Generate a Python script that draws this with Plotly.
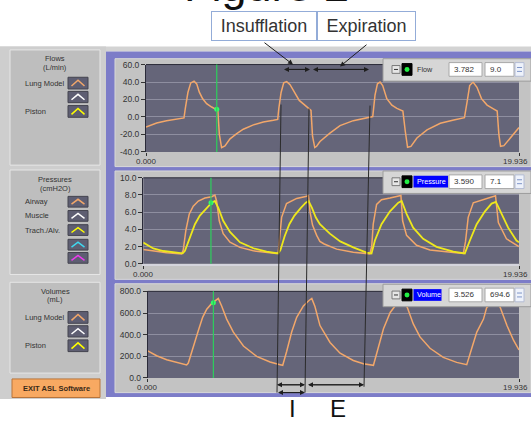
import plotly.graph_objects as go

W, H = 531, 423

# ---------------- data ----------------
x_end = 19.936
x_tick_labels = ["0.000", "19.936"]

flow_time = [0.00, 0.57, 1.10, 1.64, 2.03,
             2.10, 2.24, 2.39, 2.57, 2.71, 2.85, 3.03, 3.24, 3.51, 3.74, 3.84, 3.92, 4.04, 4.22, 4.49, 4.85,
             5.20, 5.74, 6.27, 6.81, 7.04,
             7.10, 7.22, 7.36, 7.52, 7.70, 7.96, 8.19, 8.41, 8.73, 8.82, 8.90, 9.02, 9.12, 9.30, 9.83,
             10.37, 11.08, 11.98,
             12.12, 12.24, 12.37, 12.51, 12.65, 12.87, 13.14, 13.41, 13.73, 13.86, 13.98, 14.16, 14.48,
             15.02, 15.73, 16.45, 17.02,
             17.16, 17.30, 17.48, 17.69, 17.93, 18.23, 18.59, 18.77, 18.86, 18.95, 19.13, 19.57, 19.936]
flow_lung_model = [-11.4, -6.8, -4.2, -2.3, -1.1,
                   9.5, 28.0, 39.0, 40.9, 37.9, 28.4, 20.8, 15.2, 11.4, 8.7, 7.5, -20.0, -35.0, -33.0, -25.0, -19.0,
                   -14.0, -9.0, -5.7, -3.8, -2.8,
                   10.0, 28.0, 39.0, 40.5, 37.0, 28.0, 19.0, 15.0, 9.5, 7.5, -22.0, -35.0, -33.5, -28.0, -18.5,
                   -9.8, -4.2, -0.8,
                   0.5, 25.0, 38.0, 40.0, 36.0, 21.0, 13.6, 9.8, 6.8, -16.6, -34.7, -33.6, -24.0,
                   -14.7, -7.2, -3.4, -0.8,
                   17.0, 36.0, 40.0, 34.0, 21.0, 13.6, 9.0, 6.8, -20.0, -33.6, -32.8, -22.0, -12.0]

pressure_time_airway = [0.00, 0.53, 1.24, 2.03, 2.12, 2.26, 2.44, 2.65, 2.92, 3.27, 3.63, 3.80, 3.89, 4.03,
                        4.24, 4.60, 5.13, 5.84, 6.54, 7.05,
                        7.16, 7.24, 7.34, 7.60, 8.14, 8.67, 8.76, 8.85, 8.98, 9.20, 9.37, 9.60, 10.26, 11.14,
                        11.85, 12.02,
                        12.12, 12.20, 12.38, 12.64, 13.09, 13.44, 13.67, 13.76, 13.97, 14.50, 15.21, 16.45, 16.98,
                        17.10, 17.24, 17.51, 18.04, 18.57, 18.69, 18.84, 19.27, 19.936]
pressure_airway = [1.67, 1.48, 1.29, 1.14, 1.6, 3.9, 5.8, 6.7, 7.3, 7.65, 7.8, 8.0, 7.3, 5.0,
                   3.5, 2.5, 1.9, 1.5, 1.3, 1.2,
                   1.3, 3.5, 5.4, 7.0, 7.6, 7.85, 8.0, 6.0, 4.5, 3.3, 2.6, 2.3, 1.7, 1.35,
                   1.2, 1.15,
                   2.0, 4.6, 6.9, 7.45, 7.65, 7.85, 7.95, 5.0, 3.3, 2.15, 1.6, 1.3, 1.2,
                   2.6, 5.4, 7.1, 7.45, 7.75, 7.9, 4.8, 2.9, 2.0]

pressure_time_trach = [0.00, 0.53, 1.06, 1.77, 2.09, 2.21, 2.48, 2.74, 3.00, 3.36, 3.63, 3.80, 3.98, 4.24,
                       4.60, 5.13, 5.84, 6.54, 7.16,
                       7.28, 7.50, 7.75, 8.02, 8.36, 8.62, 8.77, 8.95, 9.15, 9.37, 9.90, 10.45, 11.14, 11.85, 12.11,
                       12.29, 12.64, 13.09, 13.53, 13.71, 13.97, 14.32, 14.85, 15.56, 16.45, 17.06,
                       17.33, 17.69, 18.13, 18.48, 18.71, 19.01, 19.36, 19.80, 19.936]
pressure_trach_alv = [2.46, 1.78, 1.48, 1.29, 1.21, 1.5, 3.2, 4.6, 5.6, 6.5, 7.1, 7.3, 6.5, 5.0,
                      3.7, 2.5, 1.8, 1.4, 1.2,
                      1.6, 3.2, 4.6, 5.6, 6.5, 7.1, 7.3, 6.5, 5.4, 4.6, 3.5, 2.6, 1.9, 1.3, 1.2,
                      2.7, 4.6, 6.1, 7.1, 7.3, 5.8, 4.2, 2.9, 1.97, 1.4, 1.2,
                      2.7, 4.6, 6.1, 7.0, 7.2, 5.8, 4.2, 2.7, 2.5]

volume_time = [0.00, 0.48, 1.02, 1.56, 2.09, 2.18, 2.36, 2.54, 2.72, 2.95, 3.17, 3.44, 3.62, 3.79, 3.97,
               4.24, 4.60, 5.14, 5.85, 6.57, 7.11, 7.25,
               7.46, 7.73, 8.00, 8.36, 8.66, 8.81, 8.98, 9.25, 9.79, 10.33, 11.04, 11.58, 12.12,
               12.39, 12.66, 13.02, 13.28, 13.70, 13.94, 14.26, 14.62, 15.16, 15.87, 16.59, 17.13,
               17.40, 17.67, 18.03, 18.20, 18.68, 18.93, 19.29, 19.64, 19.936]
volume_lung_model = [250, 205, 168, 144, 120, 138, 244, 334, 439, 560, 635, 689, 716, 734, 665,
                     544, 424, 295, 199, 147, 123, 117,
                     244, 424, 560, 665, 716, 734, 660, 484, 328, 229, 162, 132, 117,
                     274, 454, 605, 665, 734, 650, 499, 379, 274, 190, 144, 123,
                     274, 424, 544, 650, 734, 650, 484, 349, 259]

flow_ticks = [-40, -20, 0, 20, 40, 60]
pressure_ticks = [0, 2, 4, 6, 8, 10]
volume_ticks = [0, 200, 400, 600, 800]

flow_cursor = [3.782, 9.0]
pressure_cursor = [3.590, 7.1]
volume_cursor = [3.526, 694.6]

panel_names = ["Flow", "Pressure", "Volume"]
cursor_readouts = [["3.782", "9.0"], ["3.590", "7.1"], ["3.526", "694.6"]]

# ---------------- styling ----------------
ORANGE = "#f2a76a"
YELLOW = "#eee81c"
GREEN = "#2dcf5c"
PLOT_BG = "#656579"
GRID = "#8e8ea0"
FRAME = "#c3c3c3"
PURPLE = "#7c7cc8"
SIDEBAR = "#cecece"
BOX = "#bebebe"
TXT = "#333333"
FONT = "Liberation Sans, Arial, sans-serif"


def X(px):
    return px / W


def Y(py):
    return 1 - py / H


shapes = []
annotations = []


def rect(x0, y0, x1, y1, fill, line=None, lw=1, layer="below"):
    shapes.append(dict(type="rect", xref="paper", yref="paper",
                       x0=X(x0), x1=X(x1), y0=Y(y1), y1=Y(y0), fillcolor=fill,
                       line=dict(color=line if line else fill, width=lw if line else 0),
                       layer=layer))


def seg(x0, y0, x1, y1, color, width=1, layer="above"):
    shapes.append(dict(type="line", xref="paper", yref="paper",
                       x0=X(x0), y0=Y(y0), x1=X(x1), y1=Y(y1),
                       line=dict(color=color, width=width), layer=layer))


def text(x, y, s, size, color=TXT, xanchor="center"):
    annotations.append(dict(xref="paper", yref="paper", x=X(x), y=Y(y), text=s,
                            showarrow=False, xanchor=xanchor, yanchor="middle",
                            font=dict(family=FONT, size=size, color=color)))


def arrow(hx, hy, tx, ty):
    annotations.append(dict(xref="paper", yref="paper", x=X(hx), y=Y(hy),
                            ax=tx - hx, ay=ty - hy, text="", showarrow=True,
                            arrowhead=2, arrowsize=1, arrowwidth=1, arrowcolor="#1e1e1e",
                            standoff=0, startstandoff=0))


def darrow(x1, x2, y):
    arrow(x2, y, x1, y)
    arrow(x1, y, x2, y)


# ---------------- window background ----------------
rect(0, 42.5, 531, 47.5, "#d3d3d3")
rect(106, 47.5, 531, 401.5, PURPLE)
rect(0, 42.5, 106, 403.5, SIDEBAR)

frames = [(115, 55, 531, 165.5), (115, 170, 531, 281), (115, 285.5, 531, 397)]
for f in frames:
    rect(*f, FRAME, "#d8d8d8", 1)

panels = [(146, 519, 61, 150.5), (143.3, 519, 177, 265), (147.7, 519, 293.3, 382)]
for (l, r, t, b) in panels:
    rect(l, t, r, b, PLOT_BG)
    seg(l, t, r, t, "#2a2a38", 1)

# ---------------- sidebar ----------------
def swatch(y0, y1, color):
    rect(68, y0, 88, y1, "#5e5e72", "#44444f", 1)
    path = "M {},{} L {},{} L {},{}".format(X(71.5), Y(y1 - 3), X(78), Y(y0 + 3), X(84.5), Y(y1 - 3))
    shapes.append(dict(type="path", xref="paper", yref="paper", path=path,
                       line=dict(color=color, width=1.5), layer="below"))


rect(10, 46, 100, 164, BOX, "#e6e6e6", 1)
text(55, 55, "Flows", 7.5)
text(55, 64, "(L/min)", 7.5)
text(23, 80, "Lung Model", 7.5, xanchor="left")
text(23, 109, "Piston", 7.5, xanchor="left")
swatch(74, 86, ORANGE)
swatch(88.5, 100, "#ffffff")
swatch(103, 115, "#ffff00")

rect(10, 169, 100, 276, BOX, "#e6e6e6", 1)
text(55, 179, "Pressures", 7.5)
text(55, 188, "(cmH2O)", 7.5)
text(23, 201, "Airway", 7.5, xanchor="left")
text(23, 216, "Muscle", 7.5, xanchor="left")
text(23, 230.5, "Trach./Alv.", 7.5, xanchor="left")
swatch(196, 207, ORANGE)
swatch(210.5, 221.5, "#ffffff")
swatch(225, 236, "#ffff00")
swatch(240, 251, "#3fd8f0")
swatch(253.5, 264.5, "#ee3cf0")

rect(10, 284, 100, 377, BOX, "#e6e6e6", 1)
text(55, 293, "Volumes", 7.5)
text(55, 302, "(mL)", 7.5)
text(23, 320, "Lung Model", 7.5, xanchor="left")
text(23, 349, "Piston", 7.5, xanchor="left")
swatch(314, 326, ORANGE)
swatch(328.5, 340, "#ffffff")
swatch(343, 355, "#ffff00")

rect(12, 383, 100, 402, "#f8a962", "#b8743a", 1)
text(56, 393, "<b>EXIT ASL Software</b>", 7.5, color="#3a2a18")

# ---------------- readout boxes on each panel ----------------
def readout(top, label, v1, v2, highlight_w):
    rect(383, top, 531, top + 23, "#d6d6d6", "#9c9c9c", 1, "above")
    rect(392, top + 7, 400, top + 15, "#e6e6e6", "#7a7a7a", 1, "above")
    seg(394, top + 11, 398, top + 11, "#333333", 1)
    rect(402, top + 5, 412, top + 17, "#000000", "#000000", 1, "above")
    shapes.append(dict(type="circle", xref="paper", yref="paper",
                       x0=X(404.5), x1=X(409.5), y0=Y(top + 13.5), y1=Y(top + 8.5),
                       fillcolor="#22ee44", line=dict(width=0), layer="above"))
    color = TXT
    if highlight_w:
        rect(413.5, top + 5, 413.5 + highlight_w, top + 17, "#0000ff", None, 1, "above")
        color = "#ffffff"
    text(414.5, top + 11, label, 7.2, color=color, xanchor="left")
    rect(449, top + 4, 482, top + 18, "#ffffff", "#a8a8a8", 1, "above")
    text(451.5, top + 11, v1, 8, xanchor="left")
    rect(485, top + 4, 514, top + 18, "#ffffff", "#a8a8a8", 1, "above")
    text(487.5, top + 11, v2, 8, xanchor="left")
    rect(515, top + 4, 524, top + 18, "#eef2fb", "#b4bcd4", 1, "above")
    seg(517, top + 9, 522, top + 9, "#7f95c8", 1)
    seg(517, top + 13, 522, top + 13, "#7f95c8", 1)


readout(55, panel_names[0], cursor_readouts[0][0], cursor_readouts[0][1], 0)
readout(170, panel_names[1], cursor_readouts[1][0], cursor_readouts[1][1], 34.5)
readout(286, panel_names[2], cursor_readouts[2][0], cursor_readouts[2][1], 28)

# x tick labels
for (l, r, t, b), ly in zip(panels, [160, 276, 392]):
    text(l, ly, x_tick_labels[0], 8)
    text(530, ly, x_tick_labels[1], 8, xanchor="right")

# ---------------- figure annotations (title, phases, arrows) ----------------
annotations.append(dict(xref="paper", yref="paper", x=X(266), y=Y(8.5), text="Figure 2",
                        showarrow=False, xanchor="center", yanchor="bottom",
                        font=dict(family=FONT, size=45, color="#111111")))
annotations.append(dict(xref="paper", yref="paper", x=X(264), y=Y(21.5), text="Insufflation",
                        showarrow=False, xanchor="center", yanchor="middle", width=104, height=28,
                        bgcolor="#ffffff", bordercolor="#93acd8", borderwidth=1, borderpad=0,
                        font=dict(family=FONT, size=18, color="#333333")))
annotations.append(dict(xref="paper", yref="paper", x=X(366.5), y=Y(21.5), text="Expiration",
                        showarrow=False, xanchor="center", yanchor="middle", width=97, height=28,
                        bgcolor="#ffffff", bordercolor="#93acd8", borderwidth=1, borderpad=0,
                        font=dict(family=FONT, size=18, color="#333333")))

arrow(293, 61, 263, 38)
arrow(340, 63, 368, 40)
darrow(284, 310, 66)
darrow(313, 369, 66)

seg(281, 102, 277, 397, "#2b2b2b", 1)
seg(309, 106, 305, 397, "#2b2b2b", 1)
seg(370, 103, 364, 391, "#2b2b2b", 1)

darrow(277, 305, 389)
darrow(308, 364, 389)
darrow(278, 305, 397)

text(292, 413, "I", 24, color="#111111")
text(338, 413, "E", 24, color="#111111")

# ---------------- traces ----------------
fig = go.Figure()
fig.add_trace(go.Scatter(x=flow_time, y=flow_lung_model, mode="lines",
                         line=dict(color=ORANGE, width=1.5), xaxis="x", yaxis="y", hoverinfo="skip"))
fig.add_trace(go.Scatter(x=pressure_time_airway, y=pressure_airway, mode="lines",
                         line=dict(color=ORANGE, width=1.5), xaxis="x2", yaxis="y2", hoverinfo="skip"))
fig.add_trace(go.Scatter(x=pressure_time_trach, y=pressure_trach_alv, mode="lines",
                         line=dict(color=YELLOW, width=1.8), xaxis="x2", yaxis="y2", hoverinfo="skip"))
fig.add_trace(go.Scatter(x=volume_time, y=volume_lung_model, mode="lines",
                         line=dict(color=ORANGE, width=1.5), xaxis="x3", yaxis="y3", hoverinfo="skip"))

for cur, xa, ya in [(flow_cursor, "x", "y"), (pressure_cursor, "x2", "y2"), (volume_cursor, "x3", "y3")]:
    shapes.append(dict(type="line", xref=xa, yref=ya + " domain", x0=cur[0], x1=cur[0], y0=0, y1=1,
                       line=dict(color=GREEN, width=1.2), layer="above"))
    fig.add_trace(go.Scatter(x=[cur[0]], y=[cur[1]], mode="markers",
                             marker=dict(color="#33ff66", size=5), xaxis=xa, yaxis=ya, hoverinfo="skip"))


def xax(l, r, anchor, bottom_line=None):
    d = dict(domain=[X(l), X(r)], range=[0, x_end], anchor=anchor, showgrid=False, zeroline=False,
             tickvals=[0, x_end], ticks="outside", ticklen=3, tickcolor="#333333",
             showticklabels=False, showline=False, fixedrange=True)
    if bottom_line:
        d.update(showline=True, linecolor=bottom_line, linewidth=2)
    return d


def yax(t, b, rng, tv, anchor):
    return dict(domain=[Y(b), Y(t)], range=rng, anchor=anchor, tickvals=tv,
                ticktext=["{:.1f}".format(v) for v in tv], ticks="outside", ticklen=4,
                tickcolor="#333333", showgrid=True, gridcolor=GRID, gridwidth=1, zeroline=False,
                showline=True, linecolor="#2a2a38", linewidth=1,
                tickfont=dict(family=FONT, size=8.5, color=TXT), fixedrange=True)


p1, p2, p3 = panels
fig.update_layout(
    width=W, height=H, autosize=False,
    margin=dict(l=0, r=0, t=0, b=0),
    paper_bgcolor="#ffffff", plot_bgcolor=PLOT_BG,
    showlegend=False,
    xaxis=xax(p1[0], p1[1], "y"),
    yaxis=yax(p1[2], p1[3], [-40, 60], flow_ticks, "x"),
    xaxis2=xax(p2[0], p2[1], "y2", bottom_line="#d4d4dc"),
    yaxis2=yax(p2[2], p2[3], [0, 10], pressure_ticks, "x2"),
    xaxis3=xax(p3[0], p3[1], "y3"),
    yaxis3=yax(p3[2], p3[3], [0, 800], volume_ticks, "x3"),
    shapes=shapes,
    annotations=annotations,
)

fig.write_html("out.html", config={"displayModeBar": False, "staticPlot": True},
               post_script="document.body.style.margin='0';document.body.style.overflow='hidden';")
